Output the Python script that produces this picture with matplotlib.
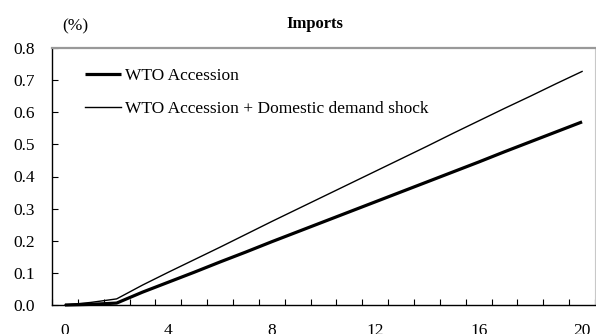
import matplotlib
matplotlib.use("Agg")
import matplotlib.pyplot as plt
import numpy as np

periods = list(range(0, 21))
wto = [0.0, 0.002, 0.006, 0.040, 0.071, 0.102, 0.134, 0.165, 0.197, 0.228, 0.259,
       0.290, 0.321, 0.352, 0.383, 0.414, 0.445, 0.477, 0.508, 0.539, 0.570]
wto_dd = [0.0, 0.008, 0.019, 0.062, 0.102, 0.141, 0.180, 0.220, 0.260, 0.299, 0.338,
          0.377, 0.416, 0.455, 0.494, 0.534, 0.573, 0.612, 0.650, 0.689, 0.727]
series_labels = ["WTO Accession", "WTO Accession + Domestic demand shock"]
xtick_labels = ["0", "4", "8", "12", "16", "20"]
yticks = [0.0, 0.1, 0.2, 0.3, 0.4, 0.5, 0.6, 0.7, 0.8]
title = "Imports"
unit = "(%)"

plt.rcParams['font.family'] = ['Liberation Serif', 'DejaVu Serif']

W, H = 596, 334
fig = plt.figure(figsize=(W / 100, H / 100), dpi=100)
ax = fig.add_axes([52 / W, 1 - 305 / H, (595 - 52) / W, (305 - 48) / H])

ax.plot(periods, wto, color='black', lw=2.3, label=series_labels[0], clip_on=False, solid_capstyle='butt')
ax.plot(periods, wto_dd, color='black', lw=1.0, label=series_labels[1], clip_on=False)

ax.set_xlim(-0.5, 20.5)
ax.set_ylim(0, 0.8)

bounds = np.arange(-0.5, len(periods), 1.0)
ax.set_xticks(bounds)
ax.set_xticklabels([])
lab_pos = [int(s) for s in xtick_labels]
ax.set_xticks(lab_pos, minor=True)
ax.set_xticklabels(xtick_labels, minor=True)
ax.tick_params(axis='x', which='major', direction='in', length=4, width=0.8, color='black')
ax.tick_params(axis='x', which='minor', length=0, pad=13, labelsize=12.5)

ax.set_yticks(yticks)
ax.set_yticklabels([f"{v:.1f}" for v in yticks])
ax.tick_params(axis='y', direction='in', length=4, width=0.8, pad=12, labelsize=12.5)

ax.spines['left'].set_color('black')
ax.spines['bottom'].set_color('black')
ax.spines['left'].set_linewidth(1.0)
ax.spines['bottom'].set_linewidth(1.0)
ax.spines['top'].set_color('#999999')
ax.spines['top'].set_linewidth(1.6)
ax.spines['right'].set_color('#c8c8c8')
ax.spines['right'].set_linewidth(0.8)

leg = ax.legend(loc='upper left', bbox_to_anchor=(85 / W, 1 - 68 / H), bbox_transform=fig.transFigure,
                frameon=False, fontsize=12.5, handlelength=2.1, handletextpad=0.2,
                labelspacing=0.95, borderpad=0, borderaxespad=0)

fig.text(315 / W, 1 - 24 / H, title, ha='center', va='center', fontsize=12, fontweight='bold')
fig.text(75 / W, 1 - 26 / H, unit, ha='center', va='center', fontsize=12.5)

fig.savefig("out.png", dpi=100)
